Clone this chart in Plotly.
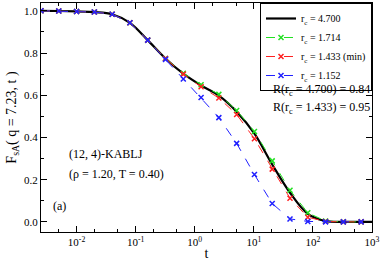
import plotly.graph_objects as go

t = [0.0025, 0.005, 0.01, 0.02, 0.04, 0.08, 0.16, 0.32, 0.64, 1.28, 2.56, 5.12,
     10.24, 20.48, 40.96, 81.92, 163.84, 327.68, 655.36]
t_black = t + [1000.0]

f_4700 = [1.0, 0.999, 0.997, 0.994, 0.984, 0.943, 0.861, 0.774, 0.702, 0.646, 0.598,
          0.522, 0.418, 0.272, 0.138, 0.038, 0.004, 0.0, 0.0, 0.0]
f_1714 = [1.0, 0.999, 0.997, 0.994, 0.984, 0.943, 0.861, 0.774, 0.704, 0.650, 0.604,
          0.528, 0.428, 0.289, 0.150, 0.043, 0.004, 0.0, 0.0]
f_1433 = [1.0, 0.999, 0.997, 0.994, 0.984, 0.943, 0.861, 0.774, 0.700, 0.640, 0.587,
          0.509, 0.394, 0.250, 0.112, 0.022, 0.002, 0.0, 0.0]
f_1152 = [1.0, 0.999, 0.997, 0.994, 0.984, 0.943, 0.861, 0.770, 0.677, 0.589, 0.494,
          0.372, 0.224, 0.087, 0.014, 0.002, 0.0, 0.0, 0.0]

x_tickvals = [0.01, 0.1, 1, 10, 100, 1000]
x_ticktext = ["10<sup>-2</sup>", "10<sup>-1</sup>", "10<sup>0</sup>",
              "10<sup>1</sup>", "10<sup>2</sup>", "10<sup>3</sup>"]
y_tickvals = [0.0, 0.2, 0.4, 0.6, 0.8, 1.0]
y_ticktext = ["0.0", "0.2", "0.4", "0.6", "0.8", "1.0"]

FONT = "Liberation Serif"

fig = go.Figure()
fig.add_trace(go.Scatter(x=t_black, y=f_4700, mode="lines", name="r<sub>c</sub> = 4.700",
                         line=dict(color="black", width=2.2, shape="spline")))
for y, name, col in [(f_1714, "r<sub>c</sub> = 1.714", "#22e022"),
                     (f_1433, "r<sub>c</sub> = 1.433 (min)", "#ff2020"),
                     (f_1152, "r<sub>c</sub> = 1.152", "#2020ff")]:
    fig.add_trace(go.Scatter(x=t, y=y, mode="lines+markers", name=name,
                             line=dict(color=col, width=1, dash="dash"),
                             marker=dict(symbol="x-thin", size=5,
                                         line=dict(color=col, width=1.5))))

ann_font = dict(family=FONT, size=12, color="black")
fig.add_annotation(x=1.0, y=0.62, xref="paper", yref="paper", xanchor="right",
                   text="R(r<sub>c</sub> = 4.700) = 0.84", showarrow=False, font=ann_font)
fig.add_annotation(x=1.0, y=0.54, xref="paper", yref="paper", xanchor="right",
                   text="R(r<sub>c</sub> = 1.433) = 0.95", showarrow=False, font=ann_font)
fig.add_annotation(x=0.08, y=0.3, xref="paper", yref="paper", xanchor="left",
                   text="(12, 4)-KABLJ", showarrow=False, font=ann_font)
fig.add_annotation(x=0.08, y=0.215, xref="paper", yref="paper", xanchor="left",
                   text="(ρ = 1.20, T = 0.40)", showarrow=False, font=ann_font)
fig.add_annotation(x=0.03, y=0.075, xref="paper", yref="paper", xanchor="left",
                   text="(a)", showarrow=False, font=ann_font)

axis_common = dict(showline=True, linecolor="black", linewidth=1, mirror="ticks",
                   ticks="inside", ticklen=6, tickcolor="black", showgrid=False,
                   zeroline=False, automargin=False,
                   tickfont=dict(family=FONT, size=11, color="black"))

fig.update_xaxes(type="log", range=[-2.602, 3], tickvals=x_tickvals, ticktext=x_ticktext,
                 title=dict(text="t", font=dict(family=FONT, size=14, color="black"),
                            standoff=0),
                 minor=dict(ticks="inside", ticklen=3, tickcolor="black", showgrid=False),
                 **axis_common)
fig.update_yaxes(range=[-0.048, 1.037], tickvals=y_tickvals, ticktext=y_ticktext,
                 title=dict(text="F<sub>sA</sub>( q = 7.23, t )",
                            font=dict(family=FONT, size=14, color="black"), standoff=4),
                 minor=dict(ticks="inside", ticklen=3, tickcolor="black", dtick=0.1,
                            showgrid=False),
                 **axis_common)

fig.update_layout(width=382, height=264, margin=dict(l=41, r=10, t=3, b=32),
                  plot_bgcolor="white", paper_bgcolor="white",
                  font=dict(family=FONT, color="black"),
                  legend=dict(x=1.0, y=1.0, xanchor="right", yanchor="top",
                              bordercolor="black", borderwidth=1, bgcolor="white",
                              font=dict(family=FONT, size=10, color="black"),
                              tracegroupgap=0, itemwidth=30,
                              traceorder="normal"))

fig.write_html("out.html", config={"displayModeBar": False},
               post_script="document.body.style.margin='0';document.body.style.padding='0';")
